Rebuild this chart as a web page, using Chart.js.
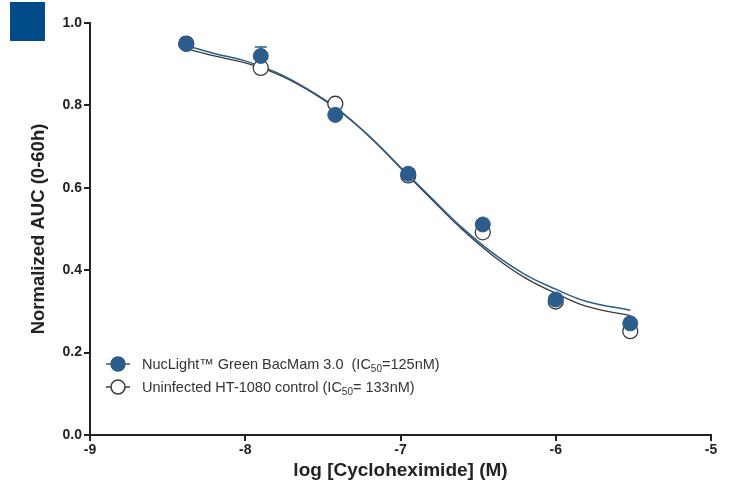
<!DOCTYPE html>
<html>
<head>
<meta charset="utf-8">
<script src="https://cdn.jsdelivr.net/npm/chart.js@4"></script>
<style>
  html, body { margin: 0; padding: 0; background: #fff; }
  #wrap { position: relative; width: 731px; height: 490px; }
  #badge { position: absolute; left: 10px; top: 2px; width: 35px; height: 39px; background: #004a87; }
</style>
</head>
<body>
<div id="wrap">
  <canvas id="curve" width="731" height="490"></canvas>
  <div id="badge"></div>
</div>
<script>
// measured points, log [M]
var doses = [-8.38, -7.9, -7.42, -6.95, -6.47, -6.0, -5.52];
var nucLight = [0.949, 0.920, 0.777, 0.634, 0.511, 0.329, 0.271];
var nucLightErr = [0, 0.022, 0, 0.012, 0, 0, 0];
var uninfected = [0.950, 0.891, 0.804, 0.630, 0.492, 0.324, 0.252];

// fitted curves
var fitX = [-8.38, -8.2, -8.0, -7.8, -7.6, -7.4, -7.2, -7.0, -6.8, -6.6, -6.4, -6.2, -6.0, -5.8, -5.52];
var nucLightFit = [0.945, 0.926, 0.908, 0.880, 0.840, 0.790, 0.725, 0.650, 0.575, 0.502, 0.440, 0.390, 0.354, 0.324, 0.303];
var uninfectedFit = [0.938, 0.920, 0.903, 0.877, 0.838, 0.788, 0.724, 0.648, 0.572, 0.498, 0.434, 0.382, 0.344, 0.312, 0.290];

var xTicks = [-9, -8, -7, -6, -5];
var yTicks = [0.0, 0.2, 0.4, 0.6, 0.8, 1.0];

var blue = '#2b5d8c';
var dark = '#3a3a3a';
var fontFamily = '"Liberation Sans", Arial, sans-serif';

function pts(xs, ys) {
    return xs.map(function (x, i) { return { x: x, y: ys[i] }; });
}

var errorBars = {
    id: 'errorBars',
    beforeDatasetsDraw: function (chart) {
        var ctx = chart.ctx, xs = chart.scales.x, ys = chart.scales.y;
        ctx.save();
        ctx.strokeStyle = blue;
        ctx.lineWidth = 1.5;
        doses.forEach(function (d, i) {
            if (!nucLightErr[i]) return;
            var px = xs.getPixelForValue(d);
            var top = ys.getPixelForValue(nucLight[i] + nucLightErr[i]);
            var mid = ys.getPixelForValue(nucLight[i]);
            ctx.beginPath();
            ctx.moveTo(px, mid); ctx.lineTo(px, top);
            ctx.moveTo(px - 6, top); ctx.lineTo(px + 6, top);
            ctx.stroke();
        });
        ctx.restore();
    }
};

var legendBox = {
    id: 'legendBox',
    afterDraw: function (chart) {
        var ctx = chart.ctx;
        var rows = [
            { fill: blue, stroke: blue, a: 'NucLight\u2122 Green BacMam 3.0  (IC', b: '=125nM)' },
            { fill: '#fff', stroke: dark, a: 'Uninfected HT-1080 control (IC', b: '= 133nM)' }
        ];
        ctx.save();
        rows.forEach(function (r, i) {
            var cx = 118, cy = 364 + i * 23;
            ctx.strokeStyle = r.stroke;
            ctx.lineWidth = 1.5;
            ctx.beginPath(); ctx.moveTo(106, cy); ctx.lineTo(130, cy); ctx.stroke();
            ctx.beginPath(); ctx.arc(cx, cy, 7, 0, Math.PI * 2);
            ctx.fillStyle = r.fill; ctx.fill(); ctx.stroke();
            ctx.fillStyle = '#333';
            ctx.textBaseline = 'alphabetic';
            ctx.font = '14.5px ' + fontFamily;
            var x = 142, base = cy + 5;
            ctx.fillText(r.a, x, base);
            x += ctx.measureText(r.a).width;
            ctx.font = '10px ' + fontFamily;
            ctx.fillText('50', x, base + 3);
            x += ctx.measureText('50').width;
            ctx.font = '14.5px ' + fontFamily;
            ctx.fillText(r.b, x, base);
        });
        ctx.restore();
    }
};

new Chart(document.getElementById('curve').getContext('2d'), {
    type: 'scatter',
    data: {
        datasets: [{
            label: 'NucLight',
            data: pts(doses, nucLight),
            backgroundColor: blue,
            borderColor: blue,
            pointRadius: 7.5,
            borderWidth: 1
        }, {
            label: 'Uninfected',
            data: pts(doses, uninfected),
            backgroundColor: '#fff',
            borderColor: dark,
            pointRadius: 7.5,
            borderWidth: 1.3
        }, {
            label: 'NucLight fit',
            type: 'line',
            data: pts(fitX, nucLightFit),
            borderColor: blue,
            borderWidth: 1.5,
            pointRadius: 0,
            tension: 0.4,
            fill: false
        }, {
            label: 'Uninfected fit',
            type: 'line',
            data: pts(fitX, uninfectedFit),
            borderColor: dark,
            borderWidth: 1.3,
            pointRadius: 0,
            tension: 0.4,
            fill: false
        }]
    },
    options: {
        responsive: false,
        animation: false,
        layout: { padding: { top: 23, right: 20, left: 0, bottom: 0 } },
        plugins: { legend: { display: false }, tooltip: { enabled: false } },
        scales: {
            x: {
                type: 'linear', min: -9, max: -5,
                afterFit: function (s) { s.height = 55; },
                afterBuildTicks: function (s) { s.ticks = xTicks.map(function (v) { return { value: v }; }); },
                grid: { drawOnChartArea: false, drawTicks: true, tickLength: 6, color: '#222', lineWidth: 2 },
                border: { color: '#222', width: 2 },
                ticks: { color: '#222', padding: 1, font: { family: fontFamily, size: 14, weight: 'bold' } },
                title: { display: true, text: 'log [Cycloheximide] (M)', color: '#222', padding: { top: 4, bottom: 8 },
                    font: { family: fontFamily, size: 19, weight: 'bold' } }
            },
            y: {
                min: 0, max: 1,
                afterFit: function (s) { s.width = 90; },
                afterBuildTicks: function (s) { s.ticks = yTicks.map(function (v) { return { value: v }; }); },
                grid: { drawOnChartArea: false, drawTicks: true, tickLength: 6, color: '#222', lineWidth: 2 },
                border: { color: '#222', width: 2 },
                ticks: { color: '#222', padding: 2, callback: function (v) { return v.toFixed(1); },
                    font: { family: fontFamily, size: 14, weight: 'bold' } },
                title: { display: true, text: 'Normalized AUC (0-60h)', color: '#222', padding: { top: 28, bottom: 0 },
                    font: { family: fontFamily, size: 18.5, weight: 'bold' } }
            }
        }
    },
    plugins: [errorBars, legendBox]
});
</script>
</body>
</html>
